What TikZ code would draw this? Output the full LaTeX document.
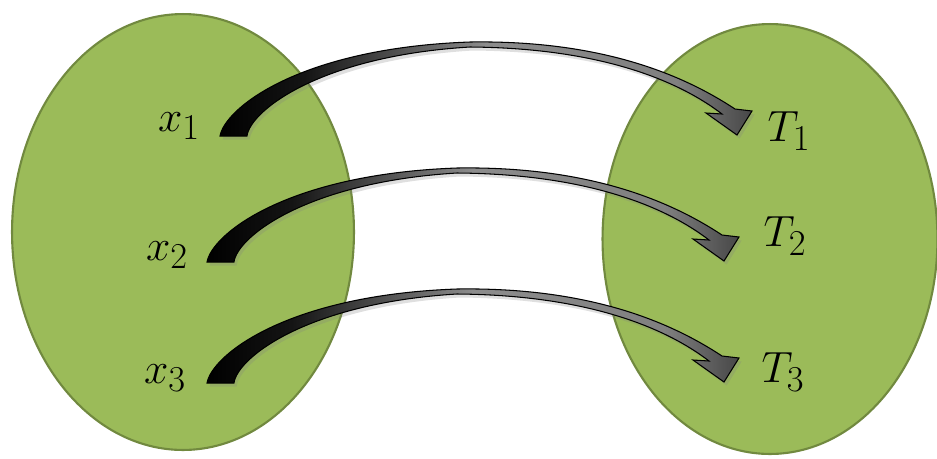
\documentclass[tikz,border=0pt]{standalone}
\usetikzlibrary{positioning,shapes.geometric,shadows}
\definecolor{SetGreen}{HTML}{9BBB59}
\definecolor{SetGreenDark}{HTML}{71893F}
\pgfdeclarehorizontalshading{arrowshade}{100bp}{color(0bp)=(black); color(25bp)=(black); color(33bp)=(black!92); color(50bp)=(black!45); color(68bp)=(black!50); color(75bp)=(black!72); color(100bp)=(black!72)}

\begin{document}
\begin{tikzpicture}[x=0.02cm,y=-0.02cm]
    \tikzset{setnode/.style={ellipse,fill=SetGreen,draw=SetGreenDark,line width=1.2pt,inner sep=0pt},
      lbl/.style={font=\fontsize{24.88}{30}\selectfont,inner sep=1pt},
      bentarrow/.pic={
        \path[draw=black,line width=0.6pt,shading=arrowshade,
          drop shadow={opacity=0.25,shadow xshift=1.5pt,shadow yshift=-2pt}]
          (0,0) .. controls (5,-28) and (80,-88) .. (250,-94)
          .. controls (380,-96) and (462,-62) .. (515,-27)
          -- (532,-25) -- (517,-1) -- (486,-23) -- (502,-22)
          .. controls (455,-58) and (375,-88) .. (250,-89)
          .. controls (100,-80) and (30,-25) .. (27,0) -- cycle;
      }}
    \fill[white] (0,0) rectangle (937,458);
    \useasboundingbox (0,0) rectangle (937,458);
    \node[setnode,minimum width=6.84cm,minimum height=8.72cm] (dom) at (183,232) {};
    \node[setnode,minimum width=6.7cm,minimum height=8.6cm] (cod) at (770,239) {};
    \node[lbl] (x1) at (179,126) {$x_1$};
    \node[lbl] (x2) at (167,255) {$x_2$};
    \node[lbl] (x3) at (165,378) {$x_3$};
    \node[lbl] (T1) at (789,131) {$T_1$};
    \node[lbl] (T2) at (785,236) {$T_2$};
    \node[lbl] (T3) at (783,372) {$T_3$};
    \coordinate (s1) at (220,136);
    \coordinate (s2) at (207,262);
    \coordinate (s3) at (207,383);
    \pic at (s1) {bentarrow};
    \pic at (s2) {bentarrow};
    \pic at (s3) {bentarrow};
  \end{tikzpicture}
\end{document}
